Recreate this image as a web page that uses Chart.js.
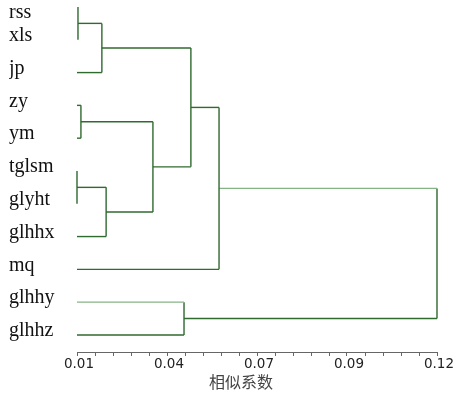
<!DOCTYPE html>
<html><head><meta charset="utf-8">
<script src="https://cdn.jsdelivr.net/npm/chart.js@4"></script>
<style>html,body{margin:0;padding:0;background:#fff}#wrap{width:459px;height:397px;position:relative}</style>
</head><body><div id="wrap"><canvas id="c"></canvas></div>
<script>
// Leaves in display order (top to bottom)
const leaves = ['rss','xls','jp','zy','ym','tglsm','glyht','glhhx','mq','glhhy','glhhz'];
// Merges: node ids 0-10 are leaves, merge k creates node id 11+k
const mergeLeft   = [0, 11, 3, 5, 14, 13, 12, 17, 9, 18];
const mergeRight  = [1, 2, 4, 6, 7, 15, 16, 8, 10, 19];
const mergeHeight = [0.0103, 0.0176, 0.0112, 0.0100, 0.0189, 0.0332, 0.0448, 0.0534, 0.0427, 0.1200];
// Branches drawn in the lighter green
const lightBranchNodes = [9, 18];
// Axis
const xMin = 0.01, xMax = 0.12, xMinorCount = 20;
const xTickLabels = ['0.01','0.04','0.07','0.09','0.12'];
const xTitle = '相似系数';

const DARK = '#2f6a2f', LIGHT = '#86b386';
const FIRST_LABEL_NUDGE = 0.3; // top label sits a little lower in the original

// build node positions
const nodeY = leaves.map((_, i) => i);
const nodeH = leaves.map(() => xMin);
mergeLeft.forEach((a, k) => {
  const b = mergeRight[k];
  nodeY.push((nodeY[a] + nodeY[b]) / 2);
  nodeH.push(mergeHeight[k]);
});

const datasets = [];
function seg(pts, color) {
  datasets.push({
    data: pts, showLine: true, borderColor: color, borderWidth: 1.4,
    pointRadius: 0, pointHoverRadius: 0, fill: false, tension: 0, clip: false
  });
}
mergeLeft.forEach((a, k) => {
  const b = mergeRight[k];
  const H = mergeHeight[k];
  seg([{x: nodeH[a], y: nodeY[a]}, {x: H, y: nodeY[a]}], lightBranchNodes.includes(a) ? LIGHT : DARK);
  seg([{x: nodeH[b], y: nodeY[b]}, {x: H, y: nodeY[b]}], lightBranchNodes.includes(b) ? LIGHT : DARK);
  seg([{x: H, y: nodeY[a]}, {x: H, y: nodeY[b]}], DARK);
});

new Chart(document.getElementById('c'), {
  type: 'scatter',
  data: { datasets },
  options: {
    responsive: true, maintainAspectRatio: false, animation: false,
    layout: { padding: { left: 9, right: 22, top: 2, bottom: 0 } },
    plugins: { legend: { display: false }, tooltip: { enabled: false } },
    scales: {
      x: {
        type: 'linear', min: xMin, max: xMax,
        afterBuildTicks: s => {
          s.ticks = Array.from({length: xMinorCount + 1}, (_, i) => ({ value: xMin + (xMax - xMin) * i / xMinorCount }));
        },
        afterFit: s => { s.height = 45; },
        ticks: {
          autoSkip: false, maxRotation: 0, padding: 0, labelOffset: 2,
          font: { family: 'DejaVu Sans', size: 13.5 }, color: '#222',
          callback: (v, i) => (i % 5 === 0 ? xTickLabels[i / 5] : '')
        },
        grid: { drawOnChartArea: false, drawTicks: true, tickLength: 4, color: '#666' },
        border: { display: true, color: '#666', width: 1 },
        title: {
          display: true, text: xTitle + '\u3000\u3000', color: '#444',
          font: { family: 'Noto Sans CJK SC', size: 16 }, padding: { top: 0, bottom: 5 }
        }
      },
      y: {
        type: 'linear', reverse: true, min: -0.152, max: 10.52,
        afterBuildTicks: s => { s.ticks = leaves.map((_, i) => ({ value: i + (i === 0 ? FIRST_LABEL_NUDGE : 0) })); },
        afterFit: s => { s.width = 68; s.paddingTop = 0; s.paddingBottom = 0; },
        ticks: {
          autoSkip: false, crossAlign: 'far', padding: 0, labelOffset: -4,
          font: { family: 'Liberation Serif', size: 20 }, color: '#111',
          callback: (v, i) => leaves[i]
        },
        grid: { display: false, drawTicks: false },
        border: { display: false }
      }
    }
  }
});
</script></body></html>
